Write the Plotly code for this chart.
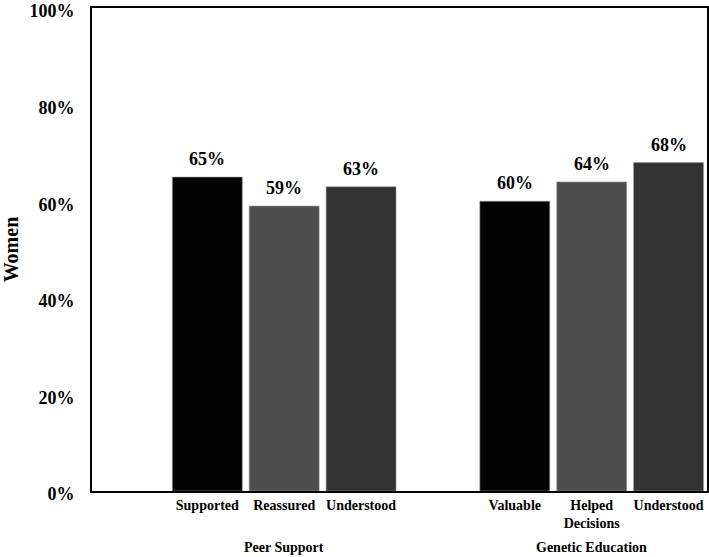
import plotly.graph_objects as go

categories = ["Supported", "Reassured", "Understood", "Valuable", "Helped<br>Decisions", "Understood"]
positions = [1, 2, 3, 5, 6, 7]
values = [65, 59, 63, 60, 64, 68]
labels = ["65%", "59%", "63%", "60%", "64%", "68%"]
colors = ["#030303", "#4e4e4e", "#333333", "#030303", "#4e4e4e", "#333333"]
groups = ["Peer Support", "Genetic Education"]
group_pos = [2, 6]
yticks = [0, 20, 40, 60, 80, 100]
yticklabels = ["0%", "20%", "40%", "60%", "80%", "100%"]

FONT = "Liberation Serif, Times New Roman, serif"

fig = go.Figure()
fig.add_trace(go.Bar(
    x=positions, y=values, width=0.91,
    marker=dict(color=colors, line=dict(color="#9a9a9a", width=0.6)),
    hoverinfo="skip",
))

for xp, v, t in zip(positions, values, labels):
    fig.add_annotation(x=xp, y=v, text="<b>%s</b>" % t, showarrow=False,
                       yanchor="bottom", yshift=6, xref="x", yref="y",
                       font=dict(family=FONT, size=18, color="black"))

for g, gp in zip(groups, group_pos):
    fig.add_annotation(x=gp, y=-0.118, text="<b>%s</b>" % g, showarrow=False,
                       xref="x", yref="paper", yanchor="middle",
                       font=dict(family=FONT, size=14, color="black"))

fig.update_layout(
    width=709, height=557,
    margin=dict(l=92, r=2, t=8, b=66),
    plot_bgcolor="white", paper_bgcolor="white",
    showlegend=False,
    font=dict(family=FONT, color="black"),
    xaxis=dict(range=[-0.5, 7.5], tickvals=positions,
               ticktext=["<b>%s</b>" % c for c in categories],
               tickfont=dict(family=FONT, size=14, color="black"),
               showline=True, linecolor="black", linewidth=2, mirror=True,
               automargin=False,
               ticks="", showgrid=False, zeroline=False, fixedrange=True),
    yaxis=dict(range=[0, 100], tickvals=yticks,
               ticktext=["<b>%s</b>" % t for t in yticklabels],
               tickfont=dict(family=FONT, size=18, color="black"),
               ticklabeloverflow="allow", automargin=False,
               ticklabelshift=3,
               showline=True, linecolor="black", linewidth=2, mirror=True,
               ticks="", ticklabelstandoff=12, showgrid=False, zeroline=False,
               title=dict(text="<b>Women</b>", font=dict(family=FONT, size=20, color="black"),
                          standoff=16)),
)

fig.write_html("out.html")
